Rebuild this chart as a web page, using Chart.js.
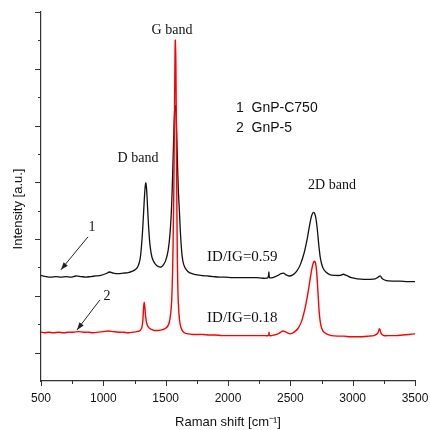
<!DOCTYPE html>
<html>
<head>
<meta charset="utf-8">
<script src="https://cdn.jsdelivr.net/npm/chart.js@4.4.1/dist/chart.umd.min.js"></script>
<style>
html,body{margin:0;padding:0;background:#fff;}
#wrap{width:430px;height:430px;position:relative;}
</style>
</head>
<body>
<div id="wrap"><canvas id="c" width="430" height="430"></canvas></div>
<script>
// ---- data ----
const seriesNames = ["GnP-C750", "GnP-5"];
const shiftC750 = [500,540,580,620,660,700,740,780,820,860,900,940,980,1020,1050,1080,1120,1160,1200,1230,1260,1280,1295,1305,1315,1325,1333,1340,1347,1355,1365,1375,1390,1410,1430,1450,1465,1480,1500,1520,1535,1548,1558,1566,1573,1580,1587,1594,1602,1610,1620,1632,1645,1665,1690,1730,1780,1830,1880,1930,1980,2030,2080,2130,2180,2230,2280,2320,2328,2334,2370,2400,2425,2445,2465,2490,2520,2550,2580,2610,2635,2655,2672,2688,2702,2715,2728,2742,2760,2785,2820,2860,2900,2925,2950,2990,3040,3090,3140,3180,3205,3222,3238,3270,3320,3380,3440,3500];
const intensityC750 = [1.86,1.84,1.83,1.84,1.83,1.84,1.83,1.85,1.84,1.83,1.84,1.85,1.86,1.89,1.92,1.90,1.89,1.90,1.91,1.93,1.97,2.03,2.15,2.35,2.65,3.05,3.35,3.49,3.38,3.05,2.65,2.38,2.18,2.08,2.03,2.01,2.01,2.04,2.12,2.30,2.60,3.10,3.80,4.40,4.80,4.85,4.50,3.90,3.35,3.00,2.55,2.20,2.05,1.96,1.91,1.88,1.86,1.85,1.84,1.83,1.83,1.82,1.82,1.82,1.82,1.82,1.81,1.82,1.92,1.82,1.83,1.86,1.89,1.90,1.87,1.85,1.87,1.93,2.05,2.25,2.50,2.75,2.92,2.97,2.90,2.70,2.40,2.15,2.00,1.92,1.87,1.86,1.86,1.88,1.86,1.82,1.80,1.79,1.79,1.80,1.83,1.85,1.80,1.77,1.76,1.76,1.75,1.75];
const shiftGnP5 = [500,530,560,600,640,680,720,760,800,840,880,920,960,1000,1040,1080,1120,1160,1200,1240,1270,1295,1310,1318,1323,1328,1333,1340,1350,1365,1385,1410,1440,1470,1500,1520,1535,1548,1558,1566,1572,1577,1582,1587,1592,1598,1606,1616,1630,1650,1680,1720,1760,1800,1850,1900,1950,2000,2050,2100,2150,2200,2250,2300,2325,2329,2334,2370,2410,2440,2465,2500,2530,2560,2590,2620,2645,2665,2680,2692,2702,2712,2722,2732,2745,2762,2790,2830,2880,2930,2980,3030,3080,3130,3170,3200,3215,3228,3250,3300,3350,3400,3450,3500];
const intensityGnP5 = [0.86,0.85,0.86,0.85,0.86,0.85,0.86,0.86,0.87,0.86,0.86,0.85,0.86,0.87,0.88,0.87,0.86,0.86,0.85,0.86,0.87,0.89,0.95,1.10,1.30,1.39,1.30,1.12,1.00,0.94,0.91,0.89,0.89,0.90,0.93,0.98,1.10,1.40,2.20,3.50,5.00,6.00,5.60,4.00,2.50,1.60,1.20,1.00,0.90,0.85,0.83,0.82,0.82,0.82,0.81,0.81,0.80,0.80,0.80,0.80,0.80,0.80,0.80,0.80,0.80,0.86,0.80,0.81,0.84,0.88,0.86,0.83,0.86,0.92,1.05,1.30,1.60,1.88,2.05,2.11,2.08,1.90,1.55,1.20,0.98,0.88,0.83,0.80,0.79,0.79,0.78,0.78,0.78,0.79,0.80,0.84,0.92,0.84,0.80,0.80,0.80,0.81,0.82,0.83];
const xMajorTicks = [500,1000,1500,2000,2500,3000,3500];
const xMinorTicks = [750,1250,1750,2250,2750,3250];
const yMajorTicks = [0.5,1.5,2.5,3.5,4.5,5.5,6.5];
const yMinorTicks = [1,2,3,4,5,6];

const toPts = (xs, ys) => xs.map((x, i) => ({x: x, y: ys[i]}));

const SANS = "'Liberation Sans', Arial, sans-serif";
const SERIF = "'Liberation Serif', 'Times New Roman', serif";

const decor = {
  id: 'decor',
  afterDraw(chart) {
    const ctx = chart.ctx;
    const xs = chart.scales.x, ys = chart.scales.y;
    const ca = chart.chartArea;
    ctx.save();
    ctx.strokeStyle = '#333';
    ctx.lineWidth = 1;
    ctx.beginPath();
    xMajorTicks.forEach(v => { const p = Math.round(xs.getPixelForValue(v)) + 0.5; ctx.moveTo(p, ca.bottom); ctx.lineTo(p, ca.bottom + 5); });
    xMinorTicks.forEach(v => { const p = Math.round(xs.getPixelForValue(v)) + 0.5; ctx.moveTo(p, ca.bottom); ctx.lineTo(p, ca.bottom + 3); });
    yMajorTicks.forEach(v => { const p = Math.round(ys.getPixelForValue(v)) + 0.5; ctx.moveTo(ca.left, p); ctx.lineTo(ca.left - 6, p); });
    yMinorTicks.forEach(v => { const p = Math.round(ys.getPixelForValue(v)) + 0.5; ctx.moveTo(ca.left, p); ctx.lineTo(ca.left - 3, p); });
    ctx.stroke();

    ctx.fillStyle = '#111';
    ctx.font = '13px ' + SANS;
    ctx.textAlign = 'center';
    ctx.textBaseline = 'middle';
    ctx.fillText('Raman shift [cm\u207B\u00B9]', (ca.left + ca.right) / 2, 422);
    ctx.save();
    ctx.translate(18, ys.getPixelForValue(3.03));
    ctx.rotate(-Math.PI / 2);
    ctx.fillText('Intensity [a.u.]', 0, 0);
    ctx.restore();

    const X = v => xs.getPixelForValue(v), Y = v => ys.getPixelForValue(v);
    ctx.font = '14px ' + SERIF;
    ctx.fillText('G band', X(1551), Y(6.17));
    ctx.fillText('D band', X(1278), Y(3.93));
    ctx.fillText('2D band', X(2834), Y(3.45));
    ctx.fillText('1', X(909), Y(2.70));
    ctx.fillText('2', X(1029), Y(1.50));
    ctx.textAlign = 'left';
    ctx.font = '15px ' + SERIF;
    ctx.fillText('ID/IG=0.59', X(1832), Y(2.18));
    ctx.fillText('ID/IG=0.18', X(1832), Y(1.11));
    ctx.font = '14px ' + SANS;
    ctx.fillText('1  ' + seriesNames[0], X(2064), Y(4.81));
    ctx.fillText('2  ' + seriesNames[1], X(2064), Y(4.46));

    const arrow = (x1, y1, x2, y2) => {
      const ax = X(x1), ay = Y(y1), bx = X(x2), by = Y(y2);
      ctx.strokeStyle = '#222';
      ctx.fillStyle = '#222';
      ctx.lineWidth = 1;
      ctx.beginPath(); ctx.moveTo(ax, ay); ctx.lineTo(bx, by); ctx.stroke();
      const ang = Math.atan2(by - ay, bx - ax), L = 8, W = 0.35;
      ctx.beginPath();
      ctx.moveTo(bx, by);
      ctx.lineTo(bx - L * Math.cos(ang - W), by - L * Math.sin(ang - W));
      ctx.lineTo(bx - L * Math.cos(ang + W), by - L * Math.sin(ang + W));
      ctx.closePath(); ctx.fill();
    };
    arrow(877, 2.54, 660, 1.96);
    arrow(973, 1.43, 789, 0.90);
    ctx.restore();
  }
};

new Chart(document.getElementById('c'), {
  type: 'line',
  data: {
    datasets: [
      { label: seriesNames[0], data: toPts(shiftC750, intensityC750), borderColor: '#111111', borderWidth: 1.3, pointRadius: 0, tension: 0.3, fill: false, order: 1 },
      { label: seriesNames[1], data: toPts(shiftGnP5, intensityGnP5), borderColor: '#ff0000', borderWidth: 1.4, pointRadius: 0, tension: 0.3, fill: false, order: 0 }
    ]
  },
  options: {
    responsive: false,
    animation: false,
    devicePixelRatio: 1,
    layout: { padding: { top: 12, right: 15, left: 0, bottom: 0 } },
    plugins: { legend: { display: false }, tooltip: { enabled: false } },
    scales: {
      x: {
        type: 'linear', min: 500, max: 3500,
        afterBuildTicks: s => { s.ticks = xMajorTicks.map(v => ({ value: v })); },
        afterFit: s => { s.height = 49; s.paddingLeft = 0; s.paddingRight = 0; },
        ticks: { font: { family: SANS, size: 12 }, color: '#111', padding: 10, maxRotation: 0, autoSkip: false, callback: v => String(v) },
        grid: { display: false, drawTicks: false },
        border: { display: true, color: '#333', width: 1.2 },
        title: { display: false }
      },
      y: {
        type: 'linear', min: 0, max: 6.5,
        afterFit: s => { s.width = 41; s.paddingTop = 0; s.paddingBottom = 0; },
        ticks: { display: false },
        grid: { display: false, drawTicks: false },
        border: { display: true, color: '#333', width: 1.2 },
        title: { display: false }
      }
    }
  },
  plugins: [decor]
});
</script>
</body>
</html>
